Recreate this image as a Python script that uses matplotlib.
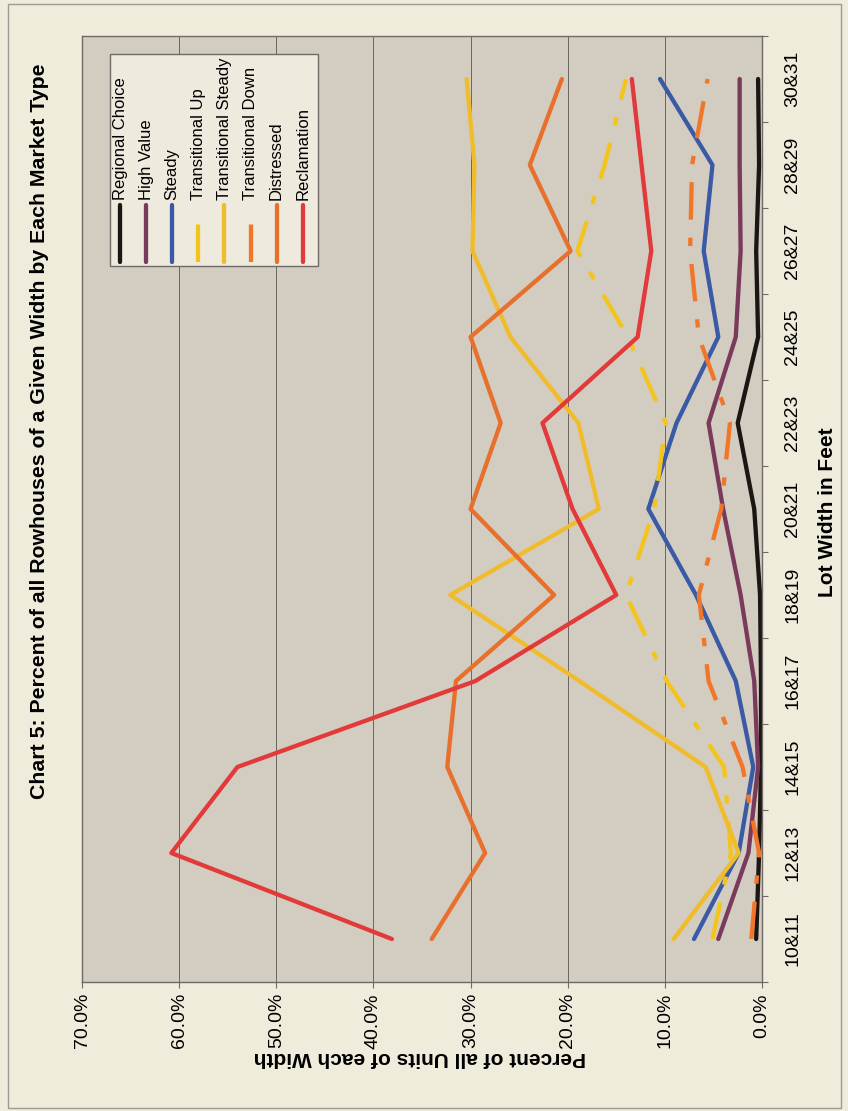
import matplotlib
matplotlib.use('Agg')
import matplotlib.pyplot as plt
from matplotlib.lines import Line2D
from matplotlib.patches import Rectangle
from matplotlib.ticker import FixedLocator, FuncFormatter

# percent of rowhouses of each lot width, by market type
lot_widths = ['10&11', '12&13', '14&15', '16&17', '18&19', '20&21',
              '22&23', '24&25', '26&27', '28&29', '30&31']

regional_choice = [0.6, 0.3, 0.1, 0.1, 0.2, 0.8, 2.5, 0.4, 0.6, 0.3, 0.4]
high_value = [4.5, 1.4, 0.4, 0.8, 2.2, 4.0, 5.5, 2.7, 2.2, 2.3, 2.3]
steady = [7.0, 2.4, 0.9, 2.7, 6.8, 11.7, 8.8, 4.5, 6.0, 5.1, 10.5]
transitional_up = [5.1, 3.2, 3.9, 9.8, 14.0, 11.1, 9.9, 13.8, 19.0, 16.2, 14.0]
transitional_steady = [9.1, 2.4, 5.8, 18.8, 32.1, 16.8, 18.9, 25.9, 29.8, 29.6, 30.4]
transitional_down = [1.1, 0.3, 2.0, 5.5, 6.5, 4.2, 3.3, 6.5, 7.4, 7.2, 5.6]
distressed = [34.0, 28.5, 32.4, 31.5, 21.4, 30.0, 26.9, 30.0, 19.7, 23.9, 20.6]
reclamation = [38.1, 60.8, 54.0, 29.5, 15.0, 19.5, 22.6, 12.8, 11.4, 12.4, 13.4]

plt.rcParams['font.family'] = ['Liberation Sans', 'DejaVu Sans']
plt.rcParams['lines.scale_dashes'] = False

dashdot = (0, (27, 13, 6, 13))
series = [
    ('Regional Choice', regional_choice, '#1C1612', '-'),
    ('High Value', high_value, '#7A3A5C', '-'),
    ('Steady', steady, '#3B5AA6', '-'),
    ('Transitional Up', transitional_up, '#F4C41E', dashdot),
    ('Transitional Steady', transitional_steady, '#F1BC2C', '-'),
    ('Transitional Down', transitional_down, '#F2762A', dashdot),
    ('Distressed', distressed, '#E6702C', '-'),
    ('Reclamation', reclamation, '#E23A3A', '-'),
]

W, H = 848, 1111
fig = plt.figure(figsize=(W / 100, H / 100), dpi=100, facecolor='#F0ECDB')


def fx(x):
    return x / W


def fy(y):
    return 1 - y / H


# outer chart border
fig.patches.append(Rectangle((fx(8), fy(1108)), fx(841) - fx(8), fy(4) - fy(1108),
                             transform=fig.transFigure, fill=False,
                             edgecolor='#9C9A94', lw=1.0))

# the chart is laid on its side: percent runs right-to-left, lot width bottom-to-top
ax = fig.add_axes([fx(82), fy(982), (762 - 82) / W, (982 - 36) / H])
ax.set_facecolor('#D2CDC0')

pos = list(range(len(lot_widths)))
for name, vals, color, style in series:
    ax.plot([v / 100 for v in vals], pos, color=color, lw=3.1, ls=style,
            solid_capstyle='round', dash_capstyle='butt', solid_joinstyle='round')

ax.set_xlim(0.7, 0)
ax.set_ylim(-0.5, len(lot_widths) - 0.5)

ax.xaxis.set_major_locator(FixedLocator([i / 10 for i in range(8)]))
ax.xaxis.set_major_formatter(FuncFormatter(lambda v, p: f'{v * 100:.1f}%'))
ax.tick_params(axis='x', labelrotation=90, labelsize=14, length=4, width=0.8,
               color='#6F6A66', pad=4)

ax.yaxis.tick_right()
ax.set_yticks(pos)
ax.set_yticklabels(lot_widths, rotation=90, va='center', fontsize=14)
ax.set_yticks([k + 0.5 for k in range(-1, len(lot_widths))], minor=True)
ax.tick_params(axis='y', which='major', length=0, pad=16)
ax.tick_params(axis='y', which='minor', length=4, width=0.8, color='#6F6A66')

ax.grid(axis='x', color='#6C6460', lw=0.7)
ax.set_axisbelow(True)
for sp in ax.spines.values():
    sp.set_color('#6F6A66')
    sp.set_linewidth(1.0)

ax.set_xlabel('Percent of all Units of each Width', rotation=180,
              fontsize=15, fontweight='bold')
ax.xaxis.set_label_coords(0.497, -0.080)
ax.xaxis.label.set_va('center')

ax.yaxis.set_label_position('right')
ax.set_ylabel('Lot Width in Feet', rotation=90, fontsize=15, fontweight='bold')
ax.yaxis.set_label_coords(1.097, 0.497)
ax.yaxis.label.set_va('center')
ax.yaxis.label.set_ha('center')

fig.text(fx(40), fy(431), 'Chart 5: Percent of all Rowhouses of a Given Width by Each Market Type',
         rotation=90, ha='center', va='center', fontsize=15.3, fontweight='bold')

# legend, turned with the chart
fig.patches.append(Rectangle((fx(110), fy(266)), fx(318) - fx(110), fy(54) - fy(266),
                             transform=fig.transFigure, facecolor='#EEEADD',
                             edgecolor='#6F6A66', lw=1.0, zorder=5))
for k, (name, vals, color, style) in enumerate(series):
    x = 120 + 26.1 * k
    top = 205 if style == '-' else 220
    fig.lines.append(Line2D([fx(x), fx(x)], [fy(262), fy(top)], transform=fig.transFigure,
                            color=color, lw=3.1, ls=style, solid_capstyle='round',
                            dash_capstyle='butt', zorder=6))
    fig.text(fx(x), fy(200), name, rotation=90, ha='center', va='bottom',
             fontsize=12, zorder=7)

fig.savefig('out.png', dpi=100, facecolor=fig.get_facecolor())
